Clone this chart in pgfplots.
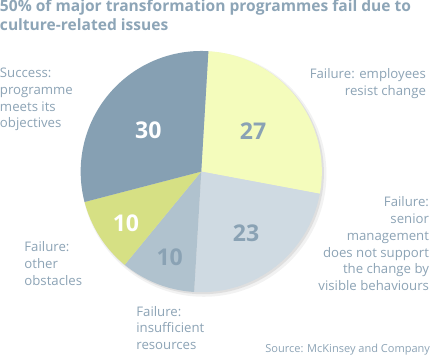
\documentclass[border=0pt]{standalone}
\usepackage{pgfplots}
\usepackage{pgfplotstable}
\pgfplotsset{compat=1.18}
\usepackage{fontspec}
\setmainfont{Open Sans}
\definecolor{cA}{HTML}{F4FCBC}
\definecolor{cB}{HTML}{CFDAE2}
\definecolor{cC}{HTML}{B0C2CE}
\definecolor{cD}{HTML}{D6E084}
\definecolor{cE}{HTML}{86A0B3}
\definecolor{txt}{HTML}{8CA3B5}
\definecolor{ttl}{HTML}{8DA5B7}
\definecolor{num}{HTML}{8AA2B4}
\pgfplotstableread{
value
27
23
10
10
30
}\piedata
\begin{document}
\begin{tikzpicture}
\pgfplotstablegetelem{0}{value}\of\piedata \let\va\pgfplotsretval
\pgfplotstablegetelem{1}{value}\of\piedata \let\vb\pgfplotsretval
\pgfplotstablegetelem{2}{value}\of\piedata \let\vc\pgfplotsretval
\pgfplotstablegetelem{3}{value}\of\piedata \let\vd\pgfplotsretval
\pgfplotstablegetelem{4}{value}\of\piedata \let\ve\pgfplotsretval
\pgfmathsetmacro\aA{86.6}
\pgfmathsetmacro\aB{\aA-3.6*\va}
\pgfmathsetmacro\aC{\aB-3.6*\vb}
\pgfmathsetmacro\aD{\aC-3.6*\vc}
\pgfmathsetmacro\aE{\aD-3.6*\vd}
\pgfmathsetmacro\aF{\aE-3.6*\ve}
\def\cx{201}\def\cy{188}\def\R{118.5}
\begin{axis}[width=12cm,height=10.0465cm,scale only axis,
  xmin=0,xmax=430,ymin=0,ymax=360,hide axis,clip=false]
\fill[black,opacity=0.05] (axis cs:\cx+2.5,\cy-2.5) circle[radius=\R+2];
\fill[black,opacity=0.08] (axis cs:\cx+1.5,\cy-1.5) circle[radius=\R+0.5];
\fill[cA] (axis cs:\cx,\cy) -- (axis cs:{\cx+\R*cos(\aA)},{\cy+\R*sin(\aA)}) arc[start angle=\aA,end angle=\aB,radius=\R] -- cycle;
\fill[cB] (axis cs:\cx,\cy) -- (axis cs:{\cx+\R*cos(\aB)},{\cy+\R*sin(\aB)}) arc[start angle=\aB,end angle=\aC,radius=\R] -- cycle;
\fill[cC] (axis cs:\cx,\cy) -- (axis cs:{\cx+\R*cos(\aC)},{\cy+\R*sin(\aC)}) arc[start angle=\aC,end angle=\aD,radius=\R] -- cycle;
\fill[cD] (axis cs:\cx,\cy) -- (axis cs:{\cx+\R*cos(\aD)},{\cy+\R*sin(\aD)}) arc[start angle=\aD,end angle=\aE,radius=\R] -- cycle;
\fill[cE] (axis cs:\cx,\cy) -- (axis cs:{\cx+\R*cos(\aE)},{\cy+\R*sin(\aE)}) arc[start angle=\aE,end angle=\aF,radius=\R] -- cycle;
% numbers
\node[font=\bfseries\fontsize{18}{20}\selectfont,text=num] at (axis cs:252,228) {\va};
\node[font=\bfseries\fontsize{18}{20}\selectfont,text=num] at (axis cs:245,127) {\vb};
\node[font=\bfseries\fontsize{18}{20}\selectfont,text=num] at (axis cs:170,104) {\vc};
\node[font=\bfseries\fontsize{18}{20}\selectfont,text=white] at (axis cs:127,137) {\vd};
\node[font=\bfseries\fontsize{18}{20}\selectfont,text=white] at (axis cs:149,229) {\ve};
% title
\node[anchor=base west,inner sep=0,align=left,text=ttl,font=\bfseries\fontsize{12.15}{14.2}\selectfont] at (axis cs:3,327) {50\% of major transformation programmes fail due to\\culture-related issues};
% labels (anchor = baseline of last line)
\tikzset{lab/.style={inner sep=0,text=txt,font=\fontsize{10.3}{13.1}\selectfont}}
\node[lab,anchor=base west,align=left] at (axis cs:3,231) {Success:\\programme\\meets its\\objectives};
\node[lab,anchor=base east,align=right] at (axis cs:422,263) {Failure: employees\\resist change};
\node[lab,anchor=base east,align=right] at (axis cs:425,71) {Failure:\\senior\\management\\does not support\\the change by\\visible behaviours};
\node[lab,anchor=base west,align=left] at (axis cs:27,76) {Failure:\\other\\obstacles};
\node[lab,anchor=base west,align=left] at (axis cs:137,13) {Failure:\\insufficient\\resources};
\node[inner sep=0,text=txt,font=\fontsize{8.6}{10}\selectfont,anchor=base east] at (axis cs:426,10) {Source: McKinsey and Company};
\end{axis}
\end{tikzpicture}
\end{document}
